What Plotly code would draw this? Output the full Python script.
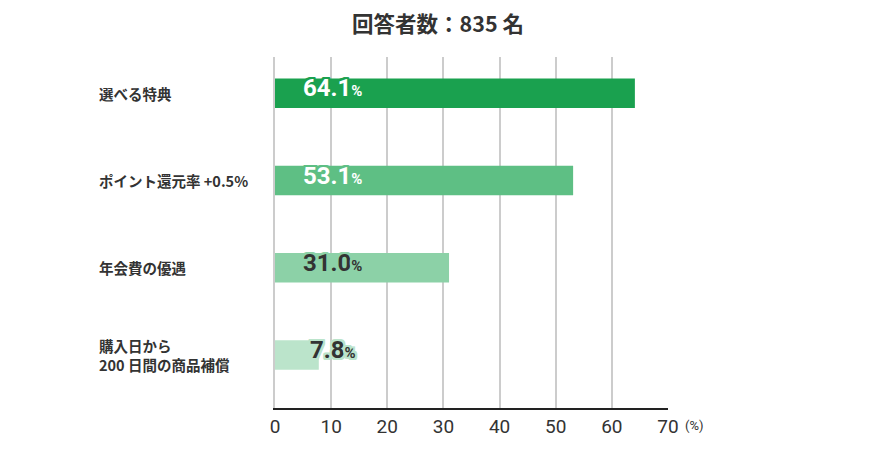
import plotly.graph_objects as go

categories = ["選べる特典", "ポイント還元率 +0.5%", "年会費の優遇", "購入日から<br>200 日間の商品補償"]
values = [64.1, 53.1, 31.0, 7.8]
bar_colors = ["#1aa14f", "#5ebf84", "#8cd1a7", "#bbe4cb"]
text_colors = ["#ffffff", "#ffffff", "#333333", "#333333"]
x_ticks = [0, 10, 20, 30, 40, 50, 60, 70]
title_text = "回答者数：835 名"
unit_text = "(%)"

# page body has an 8px margin, so the figure is drawn at (8, 8)
W, H = 872, 442
ML, MR, MT, MB = 267, 212, 49, 35
LABEL_X = 10.3

ids = list(range(len(categories)))

fig = go.Figure()
fig.add_trace(go.Bar(
    x=values, y=ids, orientation="h",
    marker=dict(color=bar_colors, line=dict(width=0)),
    width=0.337, hoverinfo="skip",
))

def halo(c, r=2):
    offs = [(r, 0), (-r, 0), (0, r), (0, -r), (r, r), (-r, -r), (r, -r), (-r, r),
            (1, 2), (2, 1), (-1, 2), (-2, 1), (1, -2), (2, -1), (-1, -2), (-2, -1)]
    return ", ".join(f"{dx}px {dy}px 0 {c}" for dx, dy in offs)

anns = []
for i, (cat, v, bc, tc) in enumerate(zip(categories, values, bar_colors, text_colors)):
    anns.append(dict(
        x=LABEL_X, y=i, xref="x", yref="y", xanchor="center", yanchor="middle",
        yshift=5, showarrow=False,
        text=f"<b>{v:.1f}</b><span style='font-size:15px'><b>%</b></span>",
        font=dict(family="Roboto", size=24, color=tc, shadow=halo(bc)),
    ))
    anns.append(dict(
        x=(89 - ML) / (W - ML - MR), y=i, xref="paper", yref="y",
        xanchor="left", yanchor="middle", align="left", showarrow=False,
        text=f"<b>{cat}</b>",
        font=dict(family="Noto Sans CJK JP", size=14.5, color="#333333"),
    ))
anns.append(dict(
    x=1, y=0, xref="paper", yref="paper", xanchor="left", yanchor="middle",
    xshift=15, yshift=-17, showarrow=False, text=unit_text,
    font=dict(family="Roboto", size=13, color="#333333"),
))

fig.update_layout(
    width=W, height=H,
    margin=dict(l=ML, r=MR, t=MT, b=MB),
    paper_bgcolor="white", plot_bgcolor="white",
    showlegend=False,
    title=dict(text=f"<b>{title_text}</b>", x=(438 - 8) / W, xref="container", xanchor="center",
               y=1 - 16 / H, yref="container", yanchor="middle",
               font=dict(family="Noto Sans CJK JP", size=21.5, color="#333333")),
    xaxis=dict(range=[0, 70], tickvals=x_ticks, ticktext=[str(t) for t in x_ticks],
               showgrid=True, gridcolor="#cccccc", gridwidth=2,
               zeroline=False, showline=True, linecolor="#222222", linewidth=1.5,
               ticks="", tickfont=dict(family="Roboto", size=19, color="#333333"),
               fixedrange=True),
    yaxis=dict(range=[3.607, -0.416], showticklabels=False, showgrid=False,
               zeroline=False, showline=True, linecolor="#cccccc", linewidth=2,
               fixedrange=True),
    annotations=anns,
)

fig.write_html("out.html")
